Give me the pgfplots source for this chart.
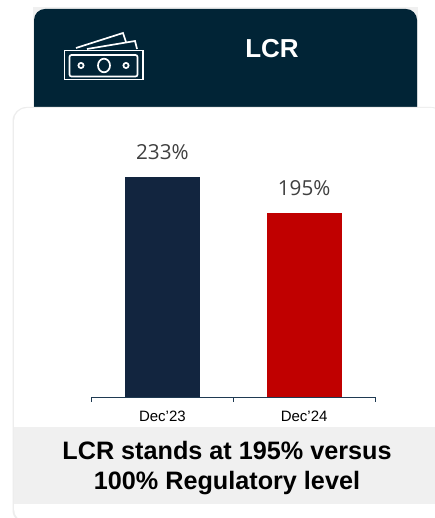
\documentclass[border=0pt]{standalone}
\usepackage{pgfplots}
\usepackage{fontspec}
\setmainfont{Liberation Sans}
\newfontfamily\labelfont{Open Sans}
\pgfplotsset{compat=1.18}
\definecolor{header}{HTML}{012436}
\definecolor{navy}{HTML}{12253F}
\definecolor{brick}{HTML}{C00000}
\definecolor{band}{HTML}{F0F0F0}
\definecolor{axisc}{HTML}{1F3A52}
\begin{document}
\begin{tikzpicture}[x=1pt,y=1pt,every node/.style={inner sep=0pt,outer sep=0pt}]
\path[use as bounding box] (0,0) rectangle (435,518);
\fill[white] (0,0) rectangle (435,518);
% header card
\fill[black!6] (33,380) rectangle (418,511);
\fill[header,rounded corners=11pt] (34,380) rectangle (417,509);
\node[text=white,font=\bfseries\fontsize{26}{29}\selectfont] at (272,469) {LCR};
% icon
\begin{scope}[white,line width=1.7pt]
\draw (64.5,438.5) rectangle (143,467.5);
\draw[rounded corners=2pt] (69.5,441.5) rectangle (137.5,463);
\draw (104,452.5) ellipse (6 and 6.8);
\draw (81,452.5) circle (2.6);
\draw (126,452.5) circle (2.6);
\draw (76,470) -- (123,485) -- (126,476);
\draw (87,469) -- (135,477) -- (137,469);
\end{scope}
% white card
\fill[black!7,rounded corners=14pt] (12.5,-6) rectangle (445,411);
\fill[white,rounded corners=13pt] (14,-4) rectangle (445,410);
\fill[band] (14,14) rectangle (435,91);
\node[align=center,font=\bfseries\fontsize{25.2}{30}\selectfont,text=black] at (227,49.5) {LCR stands at 195\% versus\\100\% Regulatory level};
\begin{axis}[
  at={(162.4pt,121pt)},anchor=origin,
  scale only axis,width=283.5pt,height=260pt,
  xmin=-0.5,xmax=1.5,ymin=0,ymax=275.4,
  axis x line=bottom,axis y line=none,
  axis line style={axisc,-,line width=0.8pt},
  xtick={0,1},xticklabels={Dec'23,Dec'24},
  major tick length=0pt,
  extra x ticks={-0.5,0.5,1.5},extra x tick labels={},
  extra x tick style={major tick length=5pt,tick align=outside,tick style={axisc,line width=0.8pt}},
  xticklabel style={font=\fontsize{15}{17}\selectfont,text=black,yshift=-14pt},
  ybar,bar width=75pt,bar shift=0pt,
  /pgf/number format/assume math mode=true,
  nodes near coords={\pgfmathprintnumber{\pgfplotspointmeta}\%},
  nodes near coords style={font=\labelfont\fontsize{20.7}{22}\selectfont,text=black!75,anchor=south,yshift=17.5pt},
  clip=false]
\addplot[fill=navy,draw=none] coordinates {(0,233)};
\addplot[fill=brick,draw=none] coordinates {(1,195)};
\end{axis}
\end{tikzpicture}
\end{document}
